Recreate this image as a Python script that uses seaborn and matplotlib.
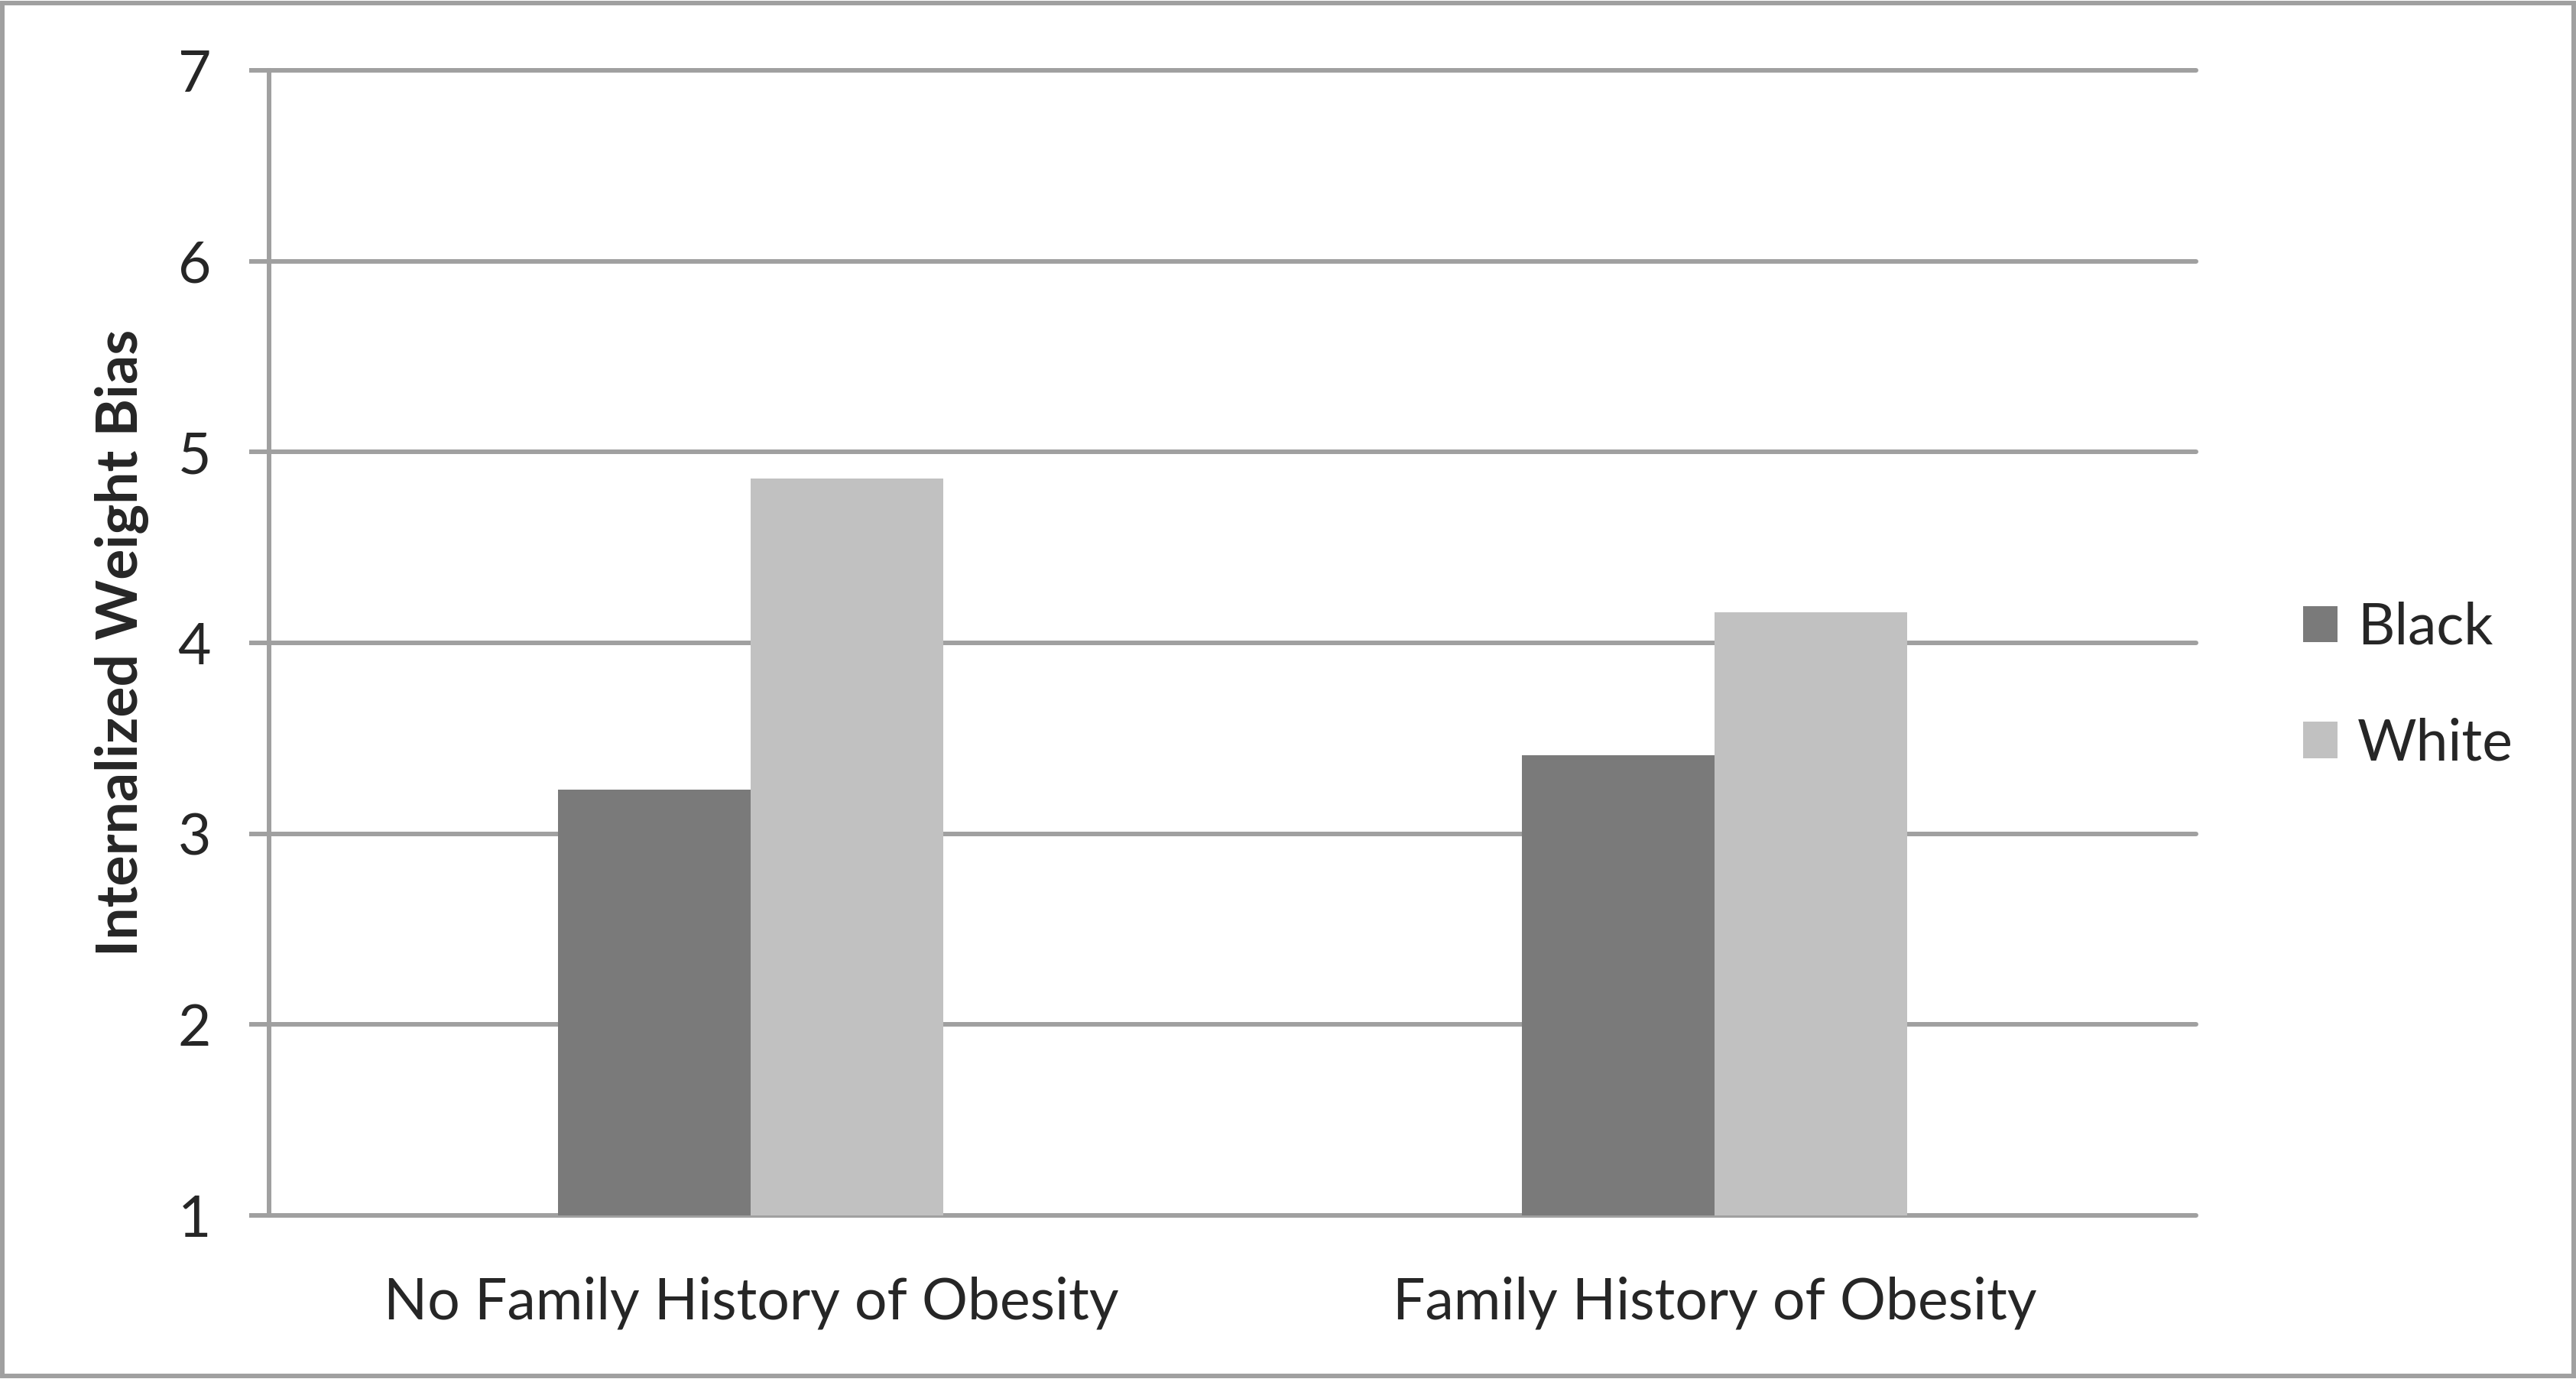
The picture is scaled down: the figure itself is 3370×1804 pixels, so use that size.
import matplotlib
matplotlib.use("Agg")
import matplotlib.pyplot as plt
import seaborn as sns
import pandas as pd
from matplotlib.patches import Rectangle

categories = ["No Family History of Obesity", "Family History of Obesity"]
groups = ["Black", "White"]
black_values = [3.23, 3.41]
white_values = [4.86, 4.16]
yticks = [1, 2, 3, 4, 5, 6, 7]
ylabel = "Internalized Weight Bias"

df = pd.DataFrame({
    "category": categories * 2,
    "group": [groups[0]] * 2 + [groups[1]] * 2,
    "value": black_values + white_values,
})

sns.set_theme(style="white")
plt.rcParams["font.family"] = ["Lato", "DejaVu Sans"]

DPI = 100
fig = plt.figure(figsize=(33.70, 18.04), dpi=DPI)
ax = fig.add_axes([352 / 3370, 1 - 1590 / 1804, (2873 - 352) / 3370, (1590 - 92) / 1804])

grid_color = "#a0a0a0"
lw = 4.3
fs = 54

sns.barplot(data=df, x="category", y="value", hue="group", order=categories,
            hue_order=groups, palette=["#7a7a7a", "#c1c1c1"], width=0.4,
            linewidth=0, ax=ax, zorder=3)

ax.set_ylim(1, 7)
ax.set_xlim(-0.5, 1.5)
ax.set_yticks(yticks)
ax.set_yticklabels([str(t) for t in yticks], fontsize=fs)
for t in yticks:
    ax.axhline(t, color=grid_color, lw=lw, zorder=1, clip_on=False)

for s in ["top", "right", "bottom"]:
    ax.spines[s].set_visible(False)
ax.spines["left"].set_color(grid_color)
ax.spines["left"].set_linewidth(lw)
ax.spines["left"].set_zorder(2)

ax.tick_params(axis="y", length=18.7, width=lw, color=grid_color, pad=36,
               labelsize=fs, left=True)
ax.tick_params(axis="x", length=0, pad=57, labelsize=fs)
ax.set_xlabel("")
ax.set_ylabel(ylabel, fontsize=fs, fontweight="bold")
ax.yaxis.set_label_coords(-(352 - 195) / (2873 - 352), 0.5)

handles, labels = ax.get_legend_handles_labels()
ax.legend(handles, labels, loc="center left",
          bbox_to_anchor=(2945 / 3370, 1 - 897 / 1804),
          bbox_transform=fig.transFigure, frameon=False, fontsize=fs,
          handlelength=0.6, handleheight=0.6, handletextpad=0.35,
          labelspacing=1.1)

fig.patches.append(Rectangle((0.001, 0.002), 0.998, 0.996, transform=fig.transFigure,
                             fill=False, edgecolor=grid_color, linewidth=4.3))

fig.savefig("out.png", dpi=DPI, facecolor="white")
